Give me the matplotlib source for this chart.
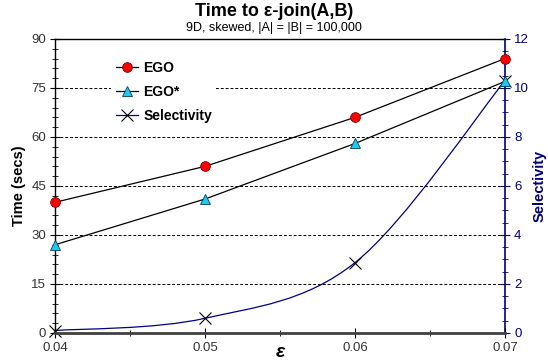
import matplotlib
matplotlib.use("Agg")
import matplotlib.pyplot as plt
from matplotlib.path import Path
from matplotlib.patches import PathPatch
from matplotlib.lines import Line2D
from matplotlib.ticker import MultipleLocator

plt.rcParams["font.family"] = ["Liberation Sans", "DejaVu Sans"]

# data
epsilon = [0.04, 0.05, 0.06, 0.07]
ego_time = [40, 51, 66, 84]
ego_star_time = [27, 41, 58, 77]
selectivity = [0.1, 0.6, 2.87, 10.3]

NAVY = "#000080"


def smooth_path(xs, ys):
    # Excel-like smoothed line: Catmull-Rom segments as cubic Bezier
    pts = list(zip(xs, ys))
    n = len(pts)
    verts = [pts[0]]
    codes = [Path.MOVETO]
    for i in range(n - 1):
        p0 = pts[max(i - 1, 0)]
        p1 = pts[i]
        p2 = pts[i + 1]
        p3 = pts[min(i + 2, n - 1)]
        c1 = (p1[0] + (p2[0] - p0[0]) / 6, p1[1] + (p2[1] - p0[1]) / 6)
        c2 = (p2[0] - (p3[0] - p1[0]) / 6, p2[1] - (p3[1] - p1[1]) / 6)
        verts += [c1, c2, p2]
        codes += [Path.CURVE4] * 3
    return Path(verts, codes)


fig = plt.figure(figsize=(5.48, 3.64), dpi=100)
ax = fig.add_axes([0.1004, 0.0852, 0.8211, 0.8078])
ax2 = ax.twinx()

# left axis: times
ax.set_xlim(0.04, 0.07)
ax.set_ylim(0, 90)
ax.yaxis.set_major_locator(MultipleLocator(15))
ax.yaxis.set_minor_locator(MultipleLocator(3))
ax.xaxis.set_minor_locator(MultipleLocator(0.005))
ax.set_xticks(epsilon)
ax.set_xticklabels(["0.04", "0.05", "0.06", "0.07"])
for y in range(15, 90, 15):
    ax.axhline(y, color="black", linestyle=(0, (3, 2)), linewidth=0.7, zorder=0)

ax.tick_params(axis="both", which="both", direction="inout", labelsize=9.5, colors="black")
ax.tick_params(axis="both", which="major", length=7)
ax.tick_params(axis="both", which="minor", length=4)
ax.tick_params(axis="x", pad=3, labelcolor="#333333")
ax.tick_params(axis="y", pad=3, labelcolor="#333333")

ax.spines["bottom"].set_color("#404040")
ax.spines["bottom"].set_linewidth(2)
ax.spines["left"].set_linewidth(1)
ax.spines["top"].set_linewidth(1)
ax.spines["right"].set_visible(False)

ax.set_ylabel("Time (secs)", fontsize=10.5, fontweight="bold", labelpad=4)
ax.set_xlabel("ε", fontsize=14, fontweight="bold", fontstyle="italic")
ax.xaxis.set_label_coords(0.5, -0.068)
ax.xaxis.label.set_verticalalignment("center")

ax.plot(epsilon, ego_time, color="black", linewidth=0.9, marker="o", markersize=7,
        markerfacecolor="red", markeredgecolor="#800000", markeredgewidth=0.6,
        zorder=5, clip_on=False)
ax.plot(epsilon, ego_star_time, color="black", linewidth=0.9, marker="^", markersize=7,
        markerfacecolor="#1EC8F0", markeredgecolor="#004060", markeredgewidth=0.6,
        zorder=5, clip_on=False)

# right axis: selectivity
ax2.set_ylim(0, 12)
ax2.yaxis.set_major_locator(MultipleLocator(2))
ax2.yaxis.set_minor_locator(MultipleLocator(0.5))
ax2.tick_params(axis="y", which="both", direction="inout", colors=NAVY, labelsize=9.5, pad=3)
ax2.tick_params(axis="y", which="major", length=7)
ax2.tick_params(axis="y", which="minor", length=4)
ax2.spines["right"].set_color(NAVY)
ax2.spines["right"].set_linewidth(1.2)
for s in ["top", "left", "bottom"]:
    ax2.spines[s].set_visible(False)
ax2.set_ylabel("Selectivity", fontsize=10.5, fontweight="bold", color=NAVY, labelpad=3)

ax2.add_patch(PathPatch(smooth_path(epsilon, selectivity), facecolor="none",
                        edgecolor=NAVY, linewidth=0.9, zorder=3))
ax2.plot(epsilon, selectivity, linestyle="none", marker="x", markersize=8,
         markeredgecolor="black", markeredgewidth=0.8, zorder=4, clip_on=False)

ax.set_zorder(ax2.get_zorder() + 1)
ax.patch.set_visible(False)

handles = [
    Line2D([], [], color="black", linewidth=0.9, marker="o", markersize=7,
           markerfacecolor="red", markeredgecolor="#800000", markeredgewidth=0.6),
    Line2D([], [], color="black", linewidth=0.9, marker="^", markersize=7,
           markerfacecolor="#1EC8F0", markeredgecolor="#004060", markeredgewidth=0.6),
    Line2D([], [], color=NAVY, linewidth=0.9, marker="x", markersize=8,
           markeredgecolor="black", markeredgewidth=0.8),
]
leg = ax.legend(handles, ["EGO", "EGO*", "Selectivity"], loc="upper left",
                bbox_to_anchor=(0.11, 0.962), frameon=True, fancybox=False,
                edgecolor="none", facecolor="white", framealpha=1,
                prop={"weight": "bold", "size": 10}, handlelength=1.6,
                handletextpad=0.4, labelspacing=0.72, borderpad=0.3)

fig.text(0.5, 0.968, "Time to ε-join(A,B)", ha="center", va="center",
         fontsize=13, fontweight="bold")
fig.text(0.5, 0.922, "9D, skewed, |A| = |B| = 100,000", ha="center", va="center",
         fontsize=9)

fig.savefig("out.png", dpi=100)
